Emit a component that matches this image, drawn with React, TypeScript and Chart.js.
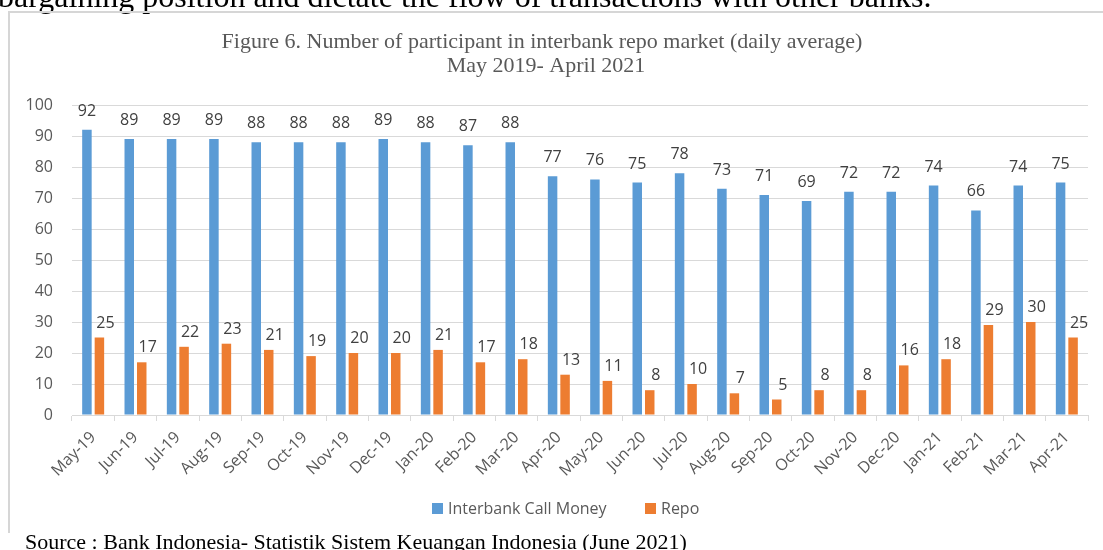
import React, { useEffect, useRef } from "react";
import { Chart, registerables } from "chart.js";

Chart.register(...registerables);

const categories = [
  "May-19", "Jun-19", "Jul-19", "Aug-19", "Sep-19", "Oct-19", "Nov-19", "Dec-19",
  "Jan-20", "Feb-20", "Mar-20", "Apr-20", "May-20", "Jun-20", "Jul-20", "Aug-20",
  "Sep-20", "Oct-20", "Nov-20", "Dec-20", "Jan-21", "Feb-21", "Mar-21", "Apr-21",
];
const interbankCallMoney = [92, 89, 89, 89, 88, 88, 88, 89, 88, 87, 88, 77, 76, 75, 78, 73, 71, 69, 72, 72, 74, 66, 74, 75];
const repo = [25, 17, 22, 23, 21, 19, 20, 20, 21, 17, 18, 13, 11, 8, 10, 7, 5, 8, 8, 16, 18, 29, 30, 25];
const seriesNames = ["Interbank Call Money", "Repo"];
const seriesColors = ["#5B9BD5", "#ED7D31"];
const titleLines = [
  "Figure 6. Number of participant in interbank repo market (daily average)",
  "May 2019- April 2021",
];
const topText = "bargaining position and dictate the flow of transactions with other banks.";
const sourceText = "Source : Bank Indonesia- Statistik Sistem Keuangan Indonesia (June 2021)";

const SANS = '"Open Sans", "Liberation Sans", sans-serif';
const SERIF = '"Liberation Serif", "Times New Roman", serif';

const decorPlugin = {
  id: "decor",
  beforeDraw(chart: any) {
    const ctx = chart.ctx;
    ctx.save();
    ctx.fillStyle = "#ffffff";
    ctx.fillRect(0, 0, chart.width, chart.height);
    // page text above the figure
    ctx.fillStyle = "#000000";
    ctx.font = `32px ${SERIF}`;
    ctx.textAlign = "left";
    ctx.textBaseline = "alphabetic";
    ctx.fillText(topText, -2, 7);
    // figure frame
    ctx.strokeStyle = "#d6d6d6";
    ctx.lineWidth = 2;
    ctx.beginPath();
    ctx.moveTo(8, 12);
    ctx.lineTo(chart.width, 12);
    ctx.moveTo(9, 12);
    ctx.lineTo(9, 533);
    ctx.stroke();
    ctx.restore();
  },
  afterDatasetsDraw(chart: any) {
    const ctx = chart.ctx;
    ctx.save();
    ctx.font = `16px ${SANS}`;
    ctx.fillStyle = "#404040";
    ctx.textAlign = "center";
    ctx.textBaseline = "alphabetic";
    chart.data.datasets.forEach((ds: any, di: number) => {
      const meta = chart.getDatasetMeta(di);
      meta.data.forEach((bar: any, i: number) => {
        const dx = di === 0 ? 0 : 6;
        const dy = di === 0 ? 14 : 10;
        ctx.fillText(String(ds.data[i]), bar.x + dx, bar.y - dy);
      });
    });
    ctx.restore();
  },
  afterDraw(chart: any) {
    const ctx = chart.ctx;
    ctx.save();
    // title
    ctx.fillStyle = "#595959";
    ctx.font = `22px ${SERIF}`;
    ctx.textAlign = "center";
    ctx.textBaseline = "alphabetic";
    ctx.fillText(titleLines[0], 542, 48);
    ctx.fillText(titleLines[1], 546, 72);
    // legend
    ctx.font = `16px ${SANS}`;
    ctx.textAlign = "left";
    ctx.textBaseline = "middle";
    const legendX = [432, 645];
    seriesNames.forEach((name, i) => {
      ctx.fillStyle = seriesColors[i];
      ctx.fillRect(legendX[i], 503, 11, 11);
      ctx.fillStyle = "#595959";
      ctx.fillText(name, legendX[i] + 16, 509);
    });
    // source
    ctx.fillStyle = "#000000";
    ctx.font = `22px ${SERIF}`;
    ctx.textBaseline = "alphabetic";
    ctx.fillText(sourceText, 25, 549);
    ctx.restore();
  },
};

export default function App() {
  const ref = useRef<HTMLCanvasElement | null>(null);
  useEffect(() => {
    if (!ref.current) return;
    const chart = new Chart(ref.current, {
      type: "bar",
      data: {
        labels: categories,
        datasets: [
          {
            label: seriesNames[0],
            data: interbankCallMoney,
            backgroundColor: seriesColors[0],
            categoryPercentage: 0.59,
            barPercentage: 0.76,
          },
          {
            label: seriesNames[1],
            data: repo,
            backgroundColor: seriesColors[1],
            categoryPercentage: 0.59,
            barPercentage: 0.76,
          },
        ],
      },
      options: {
        animation: false,
        responsive: false,
        devicePixelRatio: 1,
        layout: { padding: { left: 0, right: 15, top: 105, bottom: 0 } },
        plugins: {
          legend: { display: false },
          title: { display: false },
          tooltip: { enabled: false },
        },
        scales: {
          x: {
            grid: {
              offset: true,
              drawOnChartArea: false,
              drawTicks: true,
              tickLength: 6,
              color: "#d9d9d9",
            },
            border: { display: true, color: "#d9d9d9", width: 1 },
            ticks: {
              autoSkip: false,
              minRotation: 45,
              maxRotation: 45,
              color: "#595959",
              font: { family: SANS, size: 16 },
              padding: 7,
            },
            afterFit(scale: any) {
              scale.height = 135;
            },
          },
          y: {
            min: 0,
            max: 100,
            grid: { color: "#d9d9d9", drawTicks: false, lineWidth: 1 },
            border: { display: false },
            ticks: {
              stepSize: 10,
              color: "#595959",
              font: { family: SANS, size: 16 },
              padding: 19,
            },
            afterFit(scale: any) {
              scale.width = 72;
            },
          },
        },
      },
      plugins: [decorPlugin],
    });
    return () => chart.destroy();
  }, []);
  return (
    <div style={{ position: "fixed", left: 0, top: 0, width: 1103, height: 550, background: "#fff" }}>
      <canvas ref={ref} width={1103} height={550} style={{ width: 1103, height: 550, display: "block" }} />
    </div>
  );
}
